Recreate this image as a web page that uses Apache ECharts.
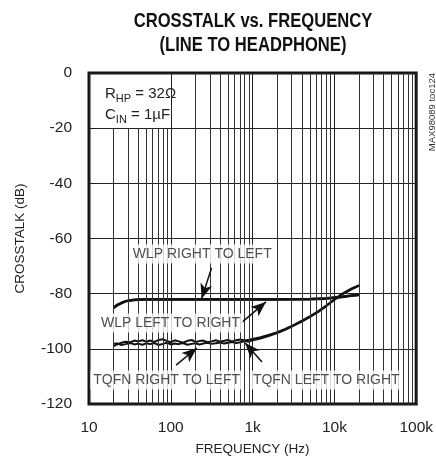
<!DOCTYPE html>
<html>
<head>
<meta charset="utf-8">
<script src="https://cdn.jsdelivr.net/npm/echarts@6/dist/echarts.min.js"></script>
<style>
  html, body { margin: 0; padding: 0; background: #fff; }
  #main { width: 436px; height: 464px; }
</style>
</head>
<body>
<div id="main"></div>
<script>
// x ticks
var xTickLabels = ['10', '100', '1k', '10k', '100k'];
var minorFreqs = [20, 30, 40, 50, 60, 70, 80, 90,
                  200, 300, 400, 500, 600, 700, 800, 900,
                  2000, 3000, 4000, 5000, 6000, 7000, 8000, 9000,
                  20000, 30000, 40000, 50000, 60000, 70000, 80000, 90000];

// WLP curves
var freqWlp = [20, 22, 25, 28, 32, 36, 40, 50, 63, 80, 100, 200, 500, 1000, 2000, 5000, 8000, 10000, 12500, 16000, 20000];
var wlpRightToLeft = [-85.2, -84.3, -83.4, -82.8, -82.5, -82.3, -82.2, -82.1, -82.1, -82.1, -82.1, -82.1, -82.1, -82.1, -82.1, -82.0, -81.8, -81.5, -81.2, -80.8, -80.5];
var wlpLeftToRight = [-85.0, -84.1, -83.3, -82.7, -82.4, -82.2, -82.1, -82.0, -82.0, -82.0, -82.0, -82.0, -82.0, -82.0, -82.0, -81.9, -81.7, -81.4, -81.1, -80.7, -80.4];

// TQFN curves
var freqTqfn = [20, 22, 25, 28, 32, 36, 40, 45, 50, 56,
                63, 71, 80, 90, 100, 112, 125, 140, 160, 180,
                200, 224, 250, 280, 315, 355, 400, 450, 500, 560,
                630, 710, 800, 900, 1000, 1250, 1600, 2000, 2500, 3150,
                4000, 5000, 6300, 8000, 10000, 12500, 16000, 20000];
var tqfnRightToLeft = [-99.0, -98.4, -97.8, -97.4, -97.6, -97.0, -97.3, -96.9, -97.4, -97.0,
                       -97.5, -96.8, -96.5, -97.2, -97.6, -96.9, -97.3, -97.8, -97.1, -96.8,
                       -97.5, -97.2, -97.0, -97.6, -97.3, -96.9, -97.4, -97.1, -96.8, -97.3,
                       -96.9, -96.6, -97.0, -96.7, -96.4, -95.8, -94.9, -94.0, -92.8, -91.4,
                       -89.8, -88.2, -86.4, -84.2, -82.0, -80.0, -78.2, -76.9];
var tqfnLeftToRight = [-98.2, -98.0, -98.6, -98.3, -97.9, -98.4, -98.1, -98.5, -98.0, -98.3,
                       -97.9, -98.6, -98.2, -97.8, -98.4, -98.1, -98.3, -97.9, -98.5, -98.2,
                       -98.0, -98.4, -98.1, -97.8, -98.2, -98.0, -97.7, -98.1, -97.8, -97.5,
                       -97.9, -97.6, -97.2, -97.4, -96.9, -96.3, -95.3, -94.3, -93.1, -91.7,
                       -90.1, -88.5, -86.7, -84.5, -82.3, -80.3, -78.5, -77.2];

// curve labels and arrows
var labelText = ['WLP RIGHT TO LEFT', 'WLP LEFT TO RIGHT', 'TQFN RIGHT TO LEFT', 'TQFN LEFT TO RIGHT'];
var labelHz = [242, 99, 89, 7950];
var labelDb = [-65.6, -90.6, -111.3, -111.3];
var arrowFromHz = [315, 726, 116, 1303];
var arrowFromDb = [-70.7, -90.6, -105.9, -104.8];
var arrowToHz = [238, 1456, 208, 811];
var arrowToDb = [-81.8, -83.0, -99.7, -97.9];

var FONT = "'Liberation Sans', Arial, sans-serif";

function pairs(xs, ys) {
    return xs.map(function (x, i) { return [x, ys[i]]; });
}

// vertical minor grid lines; first decade starts below the note box
var gridLines = minorFreqs.map(function (f) {
    if (f < 100) {
        return [{ coord: [f, -20] }, { coord: [f, -120] }];
    }
    return { xAxis: f };
});

var arrows = labelText.map(function (t, i) {
    return [{ coord: [arrowFromHz[i], arrowFromDb[i]] }, { coord: [arrowToHz[i], arrowToDb[i]] }];
});

function curve(name, xs, ys, w) {
    return {
        name: name,
        type: 'line',
        z: 3,
        showSymbol: false,
        silent: true,
        lineStyle: { color: '#111', width: w },
        data: pairs(xs, ys)
    };
}

var myChart = echarts.init(document.getElementById('main'));
var option = {
    animation: false,
    backgroundColor: '#fff',
    grid: {
        left: 89, top: 73, width: 331, height: 331,
        show: true, borderColor: '#111', borderWidth: 3
    },
    xAxis: {
        type: 'log',
        logBase: 10,
        min: 10,
        max: 100000,
        name: 'FREQUENCY (Hz)',
        nameLocation: 'middle',
        nameGap: 38,
        nameTextStyle: { fontFamily: FONT, fontSize: 13.5, color: '#222' },
        axisLine: { show: false },
        axisTick: { show: false },
        axisLabel: {
            margin: 16,
            fontFamily: FONT, fontSize: 15.5, color: '#222',
            formatter: function (v) {
                return xTickLabels[Math.round(Math.log10(v)) - 1];
            }
        },
        splitLine: { show: true, lineStyle: { color: '#222', width: 1 } }
    },
    yAxis: {
        type: 'value',
        min: -120,
        max: 0,
        interval: 20,
        name: 'CROSSTALK (dB)',
        nameLocation: 'middle',
        nameGap: 62,
        nameTextStyle: { fontFamily: FONT, fontSize: 13.5, color: '#222' },
        axisLine: { show: false },
        axisTick: { show: false },
        axisLabel: { margin: 17, fontFamily: FONT, fontSize: 15.5, color: '#222' },
        splitLine: { show: true, lineStyle: { color: '#222', width: 1 } }
    },
    graphic: [
        {
            type: 'text', x: 253, y: 9, scaleX: 0.83,
            style: {
                text: 'CROSSTALK vs. FREQUENCY\n(LINE TO HEADPHONE)',
                font: 'bold 20px ' + FONT, fill: '#111',
                textAlign: 'center', lineHeight: 24
            }
        },
        {
            type: 'text', x: 105, y: 83, z: 10,
            style: {
                text: '{a|R}{s|HP}{a| = 32Ω}\n{a|C}{s|IN}{a| = 1µF}',
                rich: {
                    a: { fontFamily: FONT, fontSize: 15, fill: '#222', lineHeight: 21 },
                    s: { fontFamily: FONT, fontSize: 11, fill: '#222', lineHeight: 21, verticalAlign: 'bottom', padding: [5, 0, 0, 0] }
                }
            }
        },
        {
            type: 'text', x: 427, y: 73, rotation: Math.PI / 2,
            style: {
                text: 'MAX98089 toc124',
                font: '9.5px ' + FONT, fill: '#333',
                textAlign: 'right', textVerticalAlign: 'top'
            }
        }
    ],
    series: [
        {
            name: 'grid',
            type: 'line',
            z: 1,
            silent: true,
            data: [],
            markLine: {
                silent: true,
                symbol: ['none', 'none'],
                label: { show: false },
                lineStyle: { type: 'solid', color: '#333', width: 1 },
                data: gridLines
            }
        },
        curve('WLP RIGHT TO LEFT', freqWlp, wlpRightToLeft, 2.5),
        curve('WLP LEFT TO RIGHT', freqWlp, wlpLeftToRight, 2.5),
        curve('TQFN RIGHT TO LEFT', freqTqfn, tqfnRightToLeft, 2),
        curve('TQFN LEFT TO RIGHT', freqTqfn, tqfnLeftToRight, 2),
        {
            name: 'labels',
            type: 'scatter',
            z: 6,
            silent: true,
            symbolSize: 0,
            data: labelText.map(function (t, i) {
                return { name: t, value: [labelHz[i], labelDb[i]] };
            }),
            label: {
                show: true,
                position: 'inside',
                formatter: '{b}',
                fontFamily: FONT, fontSize: 14, color: '#222',
                backgroundColor: '#fff',
                padding: [3, 3, 2, 3]
            },
            markLine: {
                silent: true,
                symbol: ['none', 'arrow'],
                symbolSize: [9, 15],
                label: { show: false },
                lineStyle: { type: 'solid', color: '#111', width: 1.5 },
                data: arrows
            }
        }
    ]
};
myChart.setOption(option);
</script>
</body>
</html>
